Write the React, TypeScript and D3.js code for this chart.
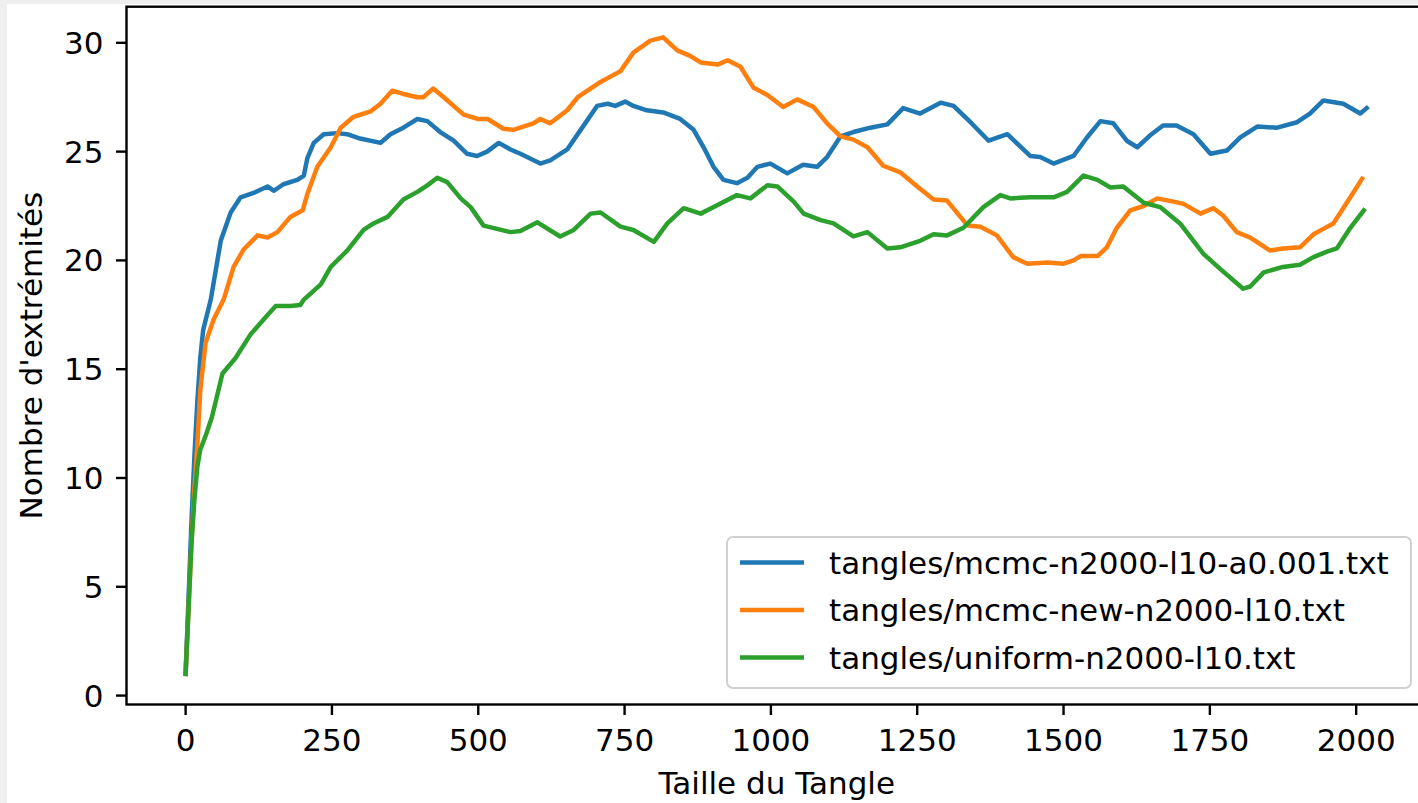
import React, { useEffect, useRef } from "react";
import * as d3 from "d3";

// values (x = taille du tangle, y = nombre d'extrémités)
const mcmcA = [
  [0, 1], [5, 4.5], [10, 8], [15, 11], [20, 13.5], [25, 15.5], [30, 16.8], [43, 18.2], [60, 20.9], [77, 22.2],
  [94, 22.9], [116, 23.1], [140, 23.4], [151, 23.2], [167, 23.5], [191, 23.7], [202, 23.9], [208, 24.7], [219, 25.4],
  [236, 25.8], [259, 25.85], [276, 25.8], [298, 25.6], [333, 25.4], [350, 25.8], [372, 26.1], [396, 26.5], [413, 26.4],
  [435, 25.9], [458, 25.5], [481, 24.9], [498, 24.8], [515, 25.0], [535, 25.4], [555, 25.1], [572, 24.9], [606, 24.45],
  [623, 24.6], [652, 25.1], [675, 26.0], [703, 27.1], [721, 27.2], [734, 27.1], [751, 27.3], [765, 27.1], [788, 26.9],
  [816, 26.8], [845, 26.5], [868, 26.0], [885, 25.2], [902, 24.3], [919, 23.7], [942, 23.55], [960, 23.8], [977, 24.3],
  [999, 24.45], [1028, 24.0], [1055, 24.4], [1079, 24.3], [1096, 24.75], [1119, 25.7], [1141, 25.9], [1170, 26.1],
  [1199, 26.25], [1226, 27.0], [1255, 26.75], [1290, 27.25], [1312, 27.1], [1341, 26.35], [1372, 25.5], [1404, 25.8],
  [1443, 24.8], [1460, 24.75], [1483, 24.45], [1517, 24.8], [1540, 25.65], [1563, 26.4], [1585, 26.3], [1608, 25.5],
  [1626, 25.2], [1648, 25.75], [1670, 26.2], [1693, 26.2], [1722, 25.8], [1751, 24.9], [1779, 25.05], [1802, 25.65],
  [1831, 26.15], [1865, 26.1], [1899, 26.35], [1921, 26.75], [1944, 27.35], [1978, 27.2], [2007, 26.75], [2018, 27.0],
];

const mcmcNew = [
  [0, 1], [5, 4], [10, 7], [15, 9.5], [20, 11.5], [25, 14], [34, 16.2], [48, 17.3], [65, 18.2], [82, 19.7], [99, 20.5],
  [123, 21.15], [140, 21.05], [157, 21.3], [179, 22.0], [200, 22.3], [208, 23.05], [225, 24.3], [248, 25.2], [265, 26.1],
  [287, 26.6], [316, 26.85], [333, 27.2], [353, 27.8], [372, 27.65], [396, 27.5], [406, 27.5], [423, 27.9], [441, 27.5],
  [475, 26.7], [499, 26.5], [516, 26.5], [543, 26.05], [560, 26.0], [594, 26.3], [606, 26.5], [623, 26.3], [652, 26.9],
  [670, 27.5], [709, 28.2], [743, 28.7], [765, 29.55], [794, 30.1], [816, 30.25], [840, 29.65], [862, 29.4], [880, 29.1],
  [909, 29.0], [926, 29.2], [948, 28.9], [970, 27.95], [994, 27.6], [1021, 27.05], [1045, 27.4], [1073, 27.05],
  [1096, 26.3], [1119, 25.7], [1141, 25.55], [1165, 25.2], [1192, 24.35], [1221, 24.05], [1250, 23.4], [1278, 22.8],
  [1301, 22.75], [1336, 21.6], [1358, 21.55], [1386, 21.15], [1414, 20.15], [1438, 19.85], [1472, 19.9], [1500, 19.85],
  [1517, 20.0], [1529, 20.2], [1558, 20.2], [1574, 20.6], [1591, 21.5], [1614, 22.3], [1637, 22.5], [1660, 22.85],
  [1688, 22.7], [1705, 22.6], [1734, 22.15], [1756, 22.4], [1773, 22.05], [1796, 21.3], [1819, 21.05], [1853, 20.45],
  [1875, 20.55], [1904, 20.6], [1927, 21.2], [1944, 21.45], [1961, 21.7], [1990, 22.9], [2010, 23.75],
];

const uniform = [
  [0, 1], [5, 4], [10, 7], [15, 9], [20, 10.5], [25, 11.3], [35, 12.0], [45, 12.8], [63, 14.8], [85, 15.5], [111, 16.6],
  [137, 17.4], [154, 17.9], [179, 17.9], [196, 17.95], [202, 18.2], [231, 18.9], [248, 19.7], [276, 20.45], [304, 21.4],
  [321, 21.7], [345, 22.0], [372, 22.8], [396, 23.15], [413, 23.45], [430, 23.8], [447, 23.6], [470, 22.85], [487, 22.45],
  [509, 21.6], [532, 21.45], [555, 21.3], [572, 21.35], [601, 21.75], [640, 21.1], [663, 21.4], [692, 22.15], [709, 22.2],
  [743, 21.55], [765, 21.4], [800, 20.85], [823, 21.7], [851, 22.4], [880, 22.15], [909, 22.55], [942, 23.0], [965, 22.85],
  [994, 23.45], [1011, 23.4], [1039, 22.7], [1056, 22.15], [1085, 21.85], [1107, 21.7], [1141, 21.1], [1165, 21.3],
  [1199, 20.55], [1221, 20.6], [1255, 20.9], [1278, 21.2], [1301, 21.15], [1329, 21.5], [1363, 22.45], [1392, 23.0],
  [1409, 22.85], [1443, 22.9], [1483, 22.9], [1506, 23.15], [1534, 23.9], [1558, 23.7], [1580, 23.35], [1602, 23.4],
  [1637, 22.65], [1665, 22.45], [1699, 21.7], [1739, 20.3], [1768, 19.6], [1807, 18.7], [1819, 18.8], [1842, 19.45],
  [1875, 19.7], [1904, 19.8], [1927, 20.15], [1950, 20.4], [1967, 20.55], [1990, 21.5], [2013, 22.3],
];

const seriesNames = [
  "tangles/mcmc-n2000-l10-a0.001.txt",
  "tangles/mcmc-new-n2000-l10.txt",
  "tangles/uniform-n2000-l10.txt",
];
const seriesColors = ["#1f77b4", "#ff7f0e", "#2ca02c"];
const xTicks = [0, 250, 500, 750, 1000, 1250, 1500, 1750, 2000];
const yTicks = [0, 5, 10, 15, 20, 25, 30];

const W = 1418;
const H = 803;
const FONT = "DejaVu Sans";
const FS = 31;

export default function App() {
  const ref = useRef(null);

  useEffect(() => {
    const svg = d3.select(ref.current);
    svg.selectAll("*").remove();

    // page background with a light grey rim at top / left
    svg.append("rect").attr("width", W).attr("height", H).attr("fill", "#efefef");
    svg.append("rect").attr("x", 7).attr("y", 4).attr("width", W - 7).attr("height", H - 4).attr("fill", "#fff");

    const left = 126.5, right = 1427, top = 6.7, bottom = 704.5;

    const x = d3.scaleLinear().domain([-101, 2121]).range([left, right]);
    const y = d3.scaleLinear().domain([-0.41, 31.66]).range([bottom, top]);

    svg.append("clipPath").attr("id", "plot-clip")
      .append("rect").attr("x", left).attr("y", top).attr("width", right - left).attr("height", bottom - top);

    // lines
    const line = d3.line().x((d) => x(d[0])).y((d) => y(d[1]));
    const all = [mcmcA, mcmcNew, uniform];
    all.forEach((data, i) => {
      svg.append("path")
        .datum(data)
        .attr("clip-path", "url(#plot-clip)")
        .attr("fill", "none")
        .attr("stroke", seriesColors[i])
        .attr("stroke-width", 4.5)
        .attr("stroke-linejoin", "round")
        .attr("stroke-linecap", "square")
        .attr("d", line);
    });

    // spines
    const spine = svg.append("g").attr("stroke", "#000").attr("stroke-width", 2.4).attr("fill", "none");
    spine.append("rect").attr("x", left).attr("y", top).attr("width", right - left).attr("height", bottom - top);

    // x axis
    const xAxis = svg.append("g").attr("transform", "translate(0," + bottom + ")");
    xTicks.forEach((t) => {
      xAxis.append("line").attr("x1", x(t)).attr("x2", x(t)).attr("y1", 0).attr("y2", 10.5)
        .attr("stroke", "#000").attr("stroke-width", 2.4);
      xAxis.append("text").attr("x", x(t)).attr("y", 46.5)
        .attr("text-anchor", "middle").attr("font-family", FONT).attr("font-size", FS).attr("fill", "#000")
        .text(t);
    });

    // y axis
    const yAxis = svg.append("g").attr("transform", "translate(" + left + ",0)");
    yTicks.forEach((t) => {
      yAxis.append("line").attr("x1", -10.5).attr("x2", 0).attr("y1", y(t)).attr("y2", y(t))
        .attr("stroke", "#000").attr("stroke-width", 2.4);
      yAxis.append("text").attr("x", -23).attr("y", y(t) + 11)
        .attr("text-anchor", "end").attr("font-family", FONT).attr("font-size", FS).attr("fill", "#000")
        .text(t);
    });

    // axis labels
    svg.append("text").attr("x", (left + right) / 2).attr("y", 794)
      .attr("text-anchor", "middle").attr("font-family", FONT).attr("font-size", FS).attr("fill", "#000")
      .text("Taille du Tangle");
    svg.append("text")
      .attr("transform", "translate(41.5," + (top + bottom) / 2 + ") rotate(-90)")
      .attr("text-anchor", "middle").attr("font-family", FONT).attr("font-size", FS).attr("fill", "#000")
      .text("Nombre d'extrémités");

    // legend
    const lg = svg.append("g").attr("transform", "translate(727,537)");
    lg.append("rect").attr("width", 684).attr("height", 151).attr("rx", 6)
      .attr("fill", "#fff").attr("fill-opacity", 0.8).attr("stroke", "#d0d0d0").attr("stroke-width", 2);
    seriesNames.forEach((name, i) => {
      const cy = 25.5 + i * 47.5;
      lg.append("line").attr("x1", 13).attr("x2", 77).attr("y1", cy).attr("y2", cy)
        .attr("stroke", seriesColors[i]).attr("stroke-width", 4.5);
      lg.append("text").attr("x", 102).attr("y", cy + 11)
        .attr("font-family", FONT).attr("font-size", FS).attr("fill", "#000")
        .text(name);
    });
  }, []);

  return (
    <svg ref={ref} width={W} height={H} style={{ position: "absolute", left: 0, top: 0 }}></svg>
  );
}
